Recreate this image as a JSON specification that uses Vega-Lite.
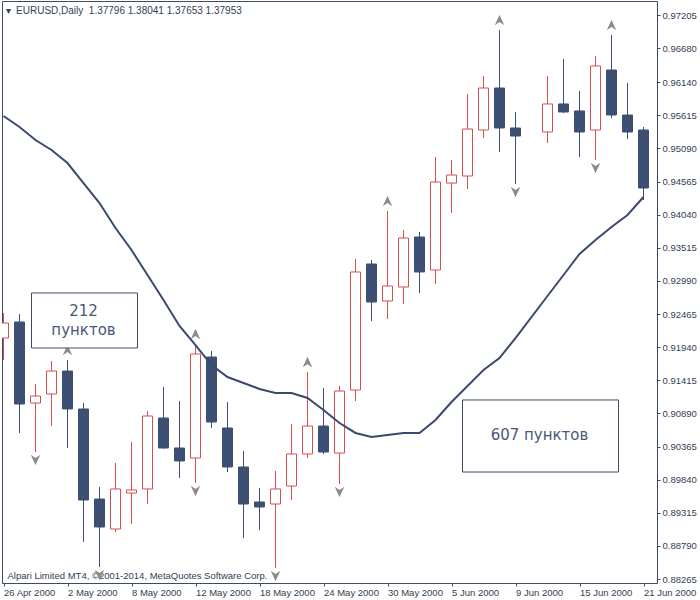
{
  "$schema": "https://vega.github.io/schema/vega-lite/v6.json",
  "width": 655,
  "height": 582,
  "autosize": {"type": "none"},
  "padding": {"left": 2, "top": 1, "right": 43, "bottom": 17},
  "background": "white",
  "config": {
    "view": {"stroke": "#3c4a66", "strokeWidth": 1},
    "font": "Liberation Sans",
    "axis": {"labelOverlap": false, "labelBound": false, "labelFlush": false, "grid": false, "domain": false}
  },
  "datasets": {
    "candles": [
      {"date": "2000-04-26", "i": 0, "o": 0.92085, "h": 0.92482, "l": 0.91737, "c": 0.92323, "ma": 0.95604},
      {"date": "2000-04-27", "i": 1, "o": 0.92339, "h": 0.92466, "l": 0.90580, "c": 0.91039, "ma": 0.95430},
      {"date": "2000-04-28", "i": 2, "o": 0.91055, "h": 0.91356, "l": 0.90278, "c": 0.91166, "ma": 0.95224},
      {"date": "2000-05-01", "i": 3, "o": 0.91198, "h": 0.91721, "l": 0.90690, "c": 0.91562, "ma": 0.95065},
      {"date": "2000-05-02", "i": 4, "o": 0.91562, "h": 0.91737, "l": 0.90342, "c": 0.90960, "ma": 0.94859},
      {"date": "2000-05-03", "i": 5, "o": 0.90960, "h": 0.91055, "l": 0.88852, "c": 0.89518, "ma": 0.94542},
      {"date": "2000-05-04", "i": 6, "o": 0.89533, "h": 0.89724, "l": 0.88455, "c": 0.89090, "ma": 0.94225},
      {"date": "2000-05-05", "i": 7, "o": 0.89058, "h": 0.90104, "l": 0.89010, "c": 0.89692, "ma": 0.93829},
      {"date": "2000-05-08", "i": 8, "o": 0.89628, "h": 0.90437, "l": 0.89137, "c": 0.89676, "ma": 0.93480},
      {"date": "2000-05-09", "i": 9, "o": 0.89692, "h": 0.90928, "l": 0.89454, "c": 0.90849, "ma": 0.93084},
      {"date": "2000-05-10", "i": 10, "o": 0.90817, "h": 0.91309, "l": 0.90330, "c": 0.90342, "ma": 0.92688},
      {"date": "2000-05-11", "i": 11, "o": 0.90342, "h": 0.91087, "l": 0.89866, "c": 0.90136, "ma": 0.92276},
      {"date": "2000-05-12", "i": 12, "o": 0.90183, "h": 0.91990, "l": 0.89787, "c": 0.91832, "ma": 0.91974},
      {"date": "2000-05-15", "i": 13, "o": 0.91784, "h": 0.91879, "l": 0.90659, "c": 0.90754, "ma": 0.91657},
      {"date": "2000-05-16", "i": 14, "o": 0.90659, "h": 0.91071, "l": 0.89961, "c": 0.90041, "ma": 0.91467},
      {"date": "2000-05-17", "i": 15, "o": 0.90041, "h": 0.90294, "l": 0.88915, "c": 0.89454, "ma": 0.91372},
      {"date": "2000-05-18", "i": 16, "o": 0.89486, "h": 0.89708, "l": 0.89042, "c": 0.89407, "ma": 0.91277},
      {"date": "2000-05-19", "i": 17, "o": 0.89454, "h": 0.89977, "l": 0.88440, "c": 0.89692, "ma": 0.91214},
      {"date": "2000-05-22", "i": 18, "o": 0.89739, "h": 0.90722, "l": 0.89518, "c": 0.90247, "ma": 0.91214},
      {"date": "2000-05-23", "i": 19, "o": 0.90247, "h": 0.91546, "l": 0.90183, "c": 0.90690, "ma": 0.91134},
      {"date": "2000-05-24", "i": 20, "o": 0.90690, "h": 0.91293, "l": 0.90247, "c": 0.90278, "ma": 0.90944},
      {"date": "2000-05-25", "i": 21, "o": 0.90262, "h": 0.91325, "l": 0.89771, "c": 0.91245, "ma": 0.90738},
      {"date": "2000-05-26", "i": 22, "o": 0.91261, "h": 0.93338, "l": 0.91087, "c": 0.93132, "ma": 0.90580},
      {"date": "2000-05-29", "i": 23, "o": 0.93258, "h": 0.93322, "l": 0.92355, "c": 0.92656, "ma": 0.90516},
      {"date": "2000-05-30", "i": 24, "o": 0.92672, "h": 0.94098, "l": 0.92387, "c": 0.92910, "ma": 0.90548},
      {"date": "2000-05-31", "i": 25, "o": 0.92894, "h": 0.93797, "l": 0.92624, "c": 0.93670, "ma": 0.90580},
      {"date": "2000-06-01", "i": 26, "o": 0.93686, "h": 0.93766, "l": 0.92799, "c": 0.93132, "ma": 0.90580},
      {"date": "2000-06-02", "i": 27, "o": 0.93163, "h": 0.94954, "l": 0.92941, "c": 0.94558, "ma": 0.90786},
      {"date": "2000-06-05", "i": 28, "o": 0.94542, "h": 0.94907, "l": 0.94067, "c": 0.94669, "ma": 0.91071},
      {"date": "2000-06-06", "i": 29, "o": 0.94653, "h": 0.95953, "l": 0.94447, "c": 0.95398, "ma": 0.91325},
      {"date": "2000-06-07", "i": 30, "o": 0.95382, "h": 0.96238, "l": 0.95256, "c": 0.96048, "ma": 0.91578},
      {"date": "2000-06-08", "i": 31, "o": 0.96048, "h": 0.96967, "l": 0.95034, "c": 0.95414, "ma": 0.91768},
      {"date": "2000-06-09", "i": 32, "o": 0.95414, "h": 0.95668, "l": 0.94526, "c": 0.95287, "ma": 0.92085},
      {"date": "2000-06-13", "i": 34, "o": 0.95351, "h": 0.96238, "l": 0.95176, "c": 0.95795, "ma": 0.92751},
      {"date": "2000-06-14", "i": 35, "o": 0.95795, "h": 0.96508, "l": 0.95652, "c": 0.95668, "ma": 0.93084},
      {"date": "2000-06-15", "i": 36, "o": 0.95684, "h": 0.96001, "l": 0.94954, "c": 0.95351, "ma": 0.93417},
      {"date": "2000-06-16", "i": 37, "o": 0.95382, "h": 0.96555, "l": 0.94907, "c": 0.96397, "ma": 0.93639},
      {"date": "2000-06-19", "i": 38, "o": 0.96333, "h": 0.96888, "l": 0.95573, "c": 0.95620, "ma": 0.93845},
      {"date": "2000-06-20", "i": 39, "o": 0.95620, "h": 0.96127, "l": 0.95240, "c": 0.95351, "ma": 0.94035},
      {"date": "2000-06-21", "i": 40, "o": 0.95382, "h": 0.95430, "l": 0.94273, "c": 0.94463, "ma": 0.94320}
    ],
    "fractals": [
      {"i": 4, "price": 0.91737, "dir": "up"},
      {"i": 12, "price": 0.91990, "dir": "up"},
      {"i": 19, "price": 0.91546, "dir": "up"},
      {"i": 24, "price": 0.94098, "dir": "up"},
      {"i": 31, "price": 0.96967, "dir": "up"},
      {"i": 38, "price": 0.96888, "dir": "up"},
      {"i": 2, "price": 0.90278, "dir": "down"},
      {"i": 6, "price": 0.88455, "dir": "down"},
      {"i": 12, "price": 0.89787, "dir": "down"},
      {"i": 17, "price": 0.88440, "dir": "down"},
      {"i": 21, "price": 0.89771, "dir": "down"},
      {"i": 32, "price": 0.94526, "dir": "down"},
      {"i": 37, "price": 0.94907, "dir": "down"}
    ],
    "boxes": [
      {"x1": 1.75, "x2": 8.375, "y1": 0.92799, "y2": 0.91927},
      {"x1": 28.6875, "x2": 38.4375, "y1": 0.91103, "y2": 0.89961}
    ],
    "notes": [
      {"x": 5.0, "y": 0.92513, "t": "212"},
      {"x": 5.0, "y": 0.92212, "t": "пунктов"},
      {"x": 33.5, "y": 0.90548, "t": "607 пунктов"}
    ],
    "header": [
      {"x": 0.125, "y": 0.97269, "t": "▾\u00a0\u00a0EURUSD,Daily\u00a0\u00a01.37796 1.38041 1.37653 1.37953"}
    ]
  },
  "layer": [
    {
      "data": {"name": "candles"},
      "mark": {"type": "rule", "strokeWidth": 1, "clip": true},
      "encoding": {
        "x": {
          "field": "i", "type": "quantitative",
          "scale": {"domain": [-0.09375, 40.84375], "nice": false, "zero": false, "padding": 0},
          "axis": {
            "values": [0, 4, 8, 12, 16, 20, 24, 28, 32, 36, 40],
            "tickCount": 40,
            "labelExpr": "['26 Apr 2000','2 May 2000','8 May 2000','12 May 2000','18 May 2000','24 May 2000','30 May 2000','5 Jun 2000','9 Jun 2000','15 Jun 2000','21 Jun 2000'][round(datum.value/4)]",
            "labelAlign": "left",
            "labelFlush": false,
            "labelOverlap": false,
            "labelBound": false,
            "labelFontSize": 9.5,
            "labelFont": "Liberation Sans",
            "labelColor": "#333d55",
            "labelPadding": 1,
            "tickSize": 3,
            "tickColor": "#3c4a66",
            "domain": false,
            "grid": false,
            "title": "Alpari Limited MT4, ©2001-2014, MetaQuotes Software Corp.",
            "titleX": 5,
            "titleY": -8,
            "titleAlign": "left",
            "titleBaseline": "middle",
            "titleFontSize": 9.5,
            "titleFontWeight": "normal",
            "titleFont": "Liberation Sans",
            "titleColor": "#333d55"
          }
        },
        "y": {
          "field": "l", "type": "quantitative",
          "scale": {"domain": [0.88202, 0.97427], "nice": false, "zero": false, "padding": 0},
          "axis": {
            "orient": "right",
            "values": [0.88265, 0.88790, 0.89315, 0.89840, 0.90365, 0.90890, 0.91415, 0.91940, 0.92465, 0.92990, 0.93515, 0.94040, 0.94565, 0.95090, 0.95615, 0.96140, 0.96680, 0.97205],
            "tickCount": 40,
            "format": ".5f",
            "labelFontSize": 9.5,
            "labelFont": "Liberation Sans",
            "labelColor": "#333d55",
            "labelPadding": 2,
            "labelBaseline": "middle",
            "labelOverlap": false,
            "labelBound": false,
            "labelFlush": false,
            "tickSize": 3,
            "tickColor": "#3c4a66",
            "domain": false,
            "grid": false,
            "title": null
          }
        },
        "y2": {"field": "h"},
        "color": {
          "condition": {"test": "datum.c > datum.o", "value": "#d64f4f"},
          "value": "#3d5073"
        }
      }
    },
    {
      "data": {"name": "candles"},
      "mark": {"type": "bar", "size": 10, "strokeWidth": 1, "clip": true},
      "encoding": {
        "x": {"field": "i", "type": "quantitative"},
        "y": {"field": "o", "type": "quantitative"},
        "y2": {"field": "c"},
        "fill": {
          "condition": {"test": "datum.c > datum.o", "value": "#ffffff"},
          "value": "#3d5073"
        },
        "stroke": {
          "condition": {"test": "datum.c > datum.o", "value": "#d64f4f"},
          "value": "#3d5073"
        }
      }
    },
    {
      "data": {"name": "candles"},
      "mark": {"type": "line", "strokeWidth": 2, "color": "#3a4a6c", "clip": true},
      "encoding": {
        "x": {"field": "i", "type": "quantitative"},
        "y": {"field": "ma", "type": "quantitative"}
      }
    },
    {
      "data": {"name": "fractals"},
      "transform": [{"filter": "datum.dir == 'up'"}],
      "mark": {"type": "point", "shape": "M0,-1L0.9,1L0,0.4L-0.9,1Z", "size": 110, "filled": true, "color": "#8f8a86", "opacity": 1, "yOffset": -10, "clip": true},
      "encoding": {
        "x": {"field": "i", "type": "quantitative"},
        "y": {"field": "price", "type": "quantitative"}
      }
    },
    {
      "data": {"name": "fractals"},
      "transform": [{"filter": "datum.dir == 'down'"}],
      "mark": {"type": "point", "shape": "M0,1L0.9,-1L0,-0.4L-0.9,-1Z", "size": 110, "filled": true, "color": "#8f8a86", "opacity": 1, "yOffset": 8, "clip": true},
      "encoding": {
        "x": {"field": "i", "type": "quantitative"},
        "y": {"field": "price", "type": "quantitative"}
      }
    },
    {
      "data": {"name": "boxes"},
      "mark": {"type": "rect", "fill": "#ffffff", "stroke": "#3c4a66", "strokeWidth": 1},
      "encoding": {
        "x": {"field": "x1", "type": "quantitative"},
        "x2": {"field": "x2"},
        "y": {"field": "y1", "type": "quantitative"},
        "y2": {"field": "y2"}
      }
    },
    {
      "data": {"name": "notes"},
      "mark": {"type": "text", "font": "DejaVu Sans", "fontSize": 15, "color": "#4a5878", "align": "center", "baseline": "middle"},
      "encoding": {
        "x": {"field": "x", "type": "quantitative"},
        "y": {"field": "y", "type": "quantitative"},
        "text": {"field": "t", "type": "nominal"}
      }
    },
    {
      "data": {"name": "header"},
      "mark": {"type": "text", "font": "Liberation Sans", "fontSize": 10, "color": "#333d55", "align": "left", "baseline": "middle"},
      "encoding": {
        "x": {"field": "x", "type": "quantitative"},
        "y": {"field": "y", "type": "quantitative"},
        "text": {"field": "t", "type": "nominal"}
      }
    }
  ]
}
